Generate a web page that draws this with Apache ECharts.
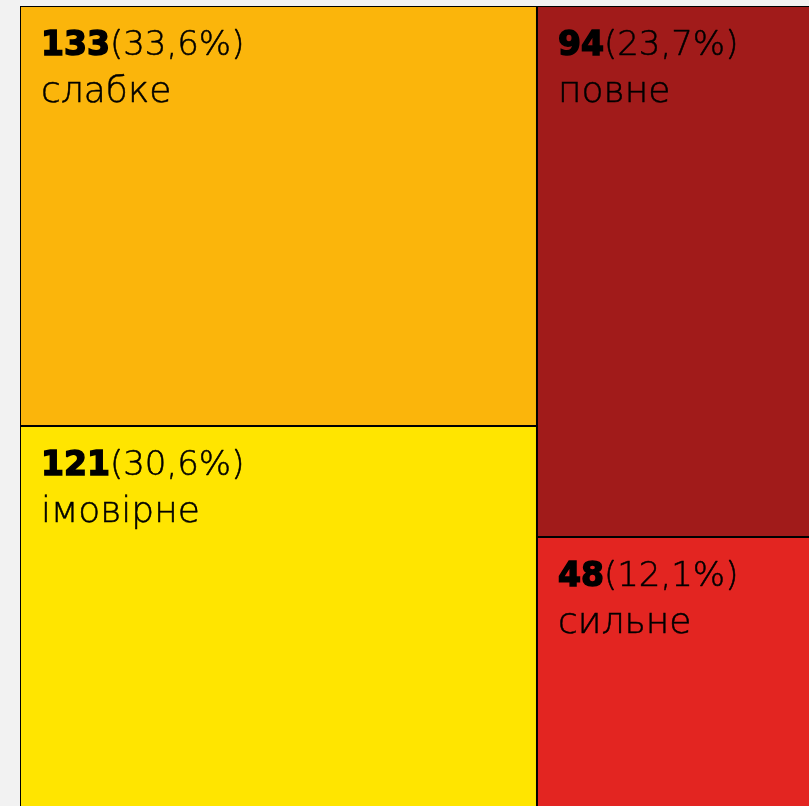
<!DOCTYPE html>
<html>
<head>
<meta charset="utf-8">
<script src="https://cdn.jsdelivr.net/npm/echarts@6/dist/echarts.min.js"></script>
<style>
html,body{margin:0;padding:0;background:#f2f2f2;}
#c{width:809px;height:806px;}
</style>
</head>
<body>
<div id="c"></div>
<script>
// Data
const groups = [
  ['слабке', 'імовірне'],
  ['повне', 'сильне']
];
const categories = ['слабке', 'імовірне', 'повне', 'сильне'];
const values = [133, 121, 94, 48];
const colors = ['#FBB50B', '#FFE500', '#A11B1A', '#E32521'];

const total = values.reduce((a, b) => a + b, 0);
const data = groups.map(g => ({
  name: g.join('/'),
  children: g.map(n => {
    const i = categories.indexOf(n);
    return { name: n, value: values[i], itemStyle: { color: colors[i] } };
  })
}));

const lightFont = '"DejaVu Sans ExtraLight", "DejaVu Sans", sans-serif';
const chart = echarts.init(document.getElementById('c'), null, { renderer: 'canvas' });
chart.setOption({
  animation: false,
  backgroundColor: '#f2f2f2',
  series: [{
    type: 'treemap',
    left: 20,
    top: 6,
    width: 806,
    height: 802,
    roam: false,
    nodeClick: false,
    breadcrumb: { show: false },
    squareRatio: 1,
    levels: [
      { itemStyle: { borderWidth: 0, gapWidth: 0, borderColor: '#000' } },
      { itemStyle: { borderWidth: 0, gapWidth: 0, borderColor: '#000' } },
      { itemStyle: { borderWidth: 1, gapWidth: 0, borderColor: '#000' } }
    ],
    label: {
      show: true,
      position: [15, 11],
      formatter: function (p) {
        const pct = (p.value / total * 100).toFixed(1).replace('.', ',');
        return '{a|' + p.value + '}{b|(' + pct + '%)}\n{c|' + p.name + '}';
      },
      rich: {
        a: { fontFamily: '"DejaVu Sans", sans-serif', fontWeight: 'bold', fontSize: 33, color: '#000', lineHeight: 47, textBorderColor: '#000', textBorderWidth: 1.5 },
        b: { fontFamily: lightFont, fontWeight: 200, fontSize: 34, color: '#000', lineHeight: 47, textBorderColor: '#000', textBorderWidth: 0.5 },
        c: { fontFamily: lightFont, fontWeight: 200, fontSize: 36, color: '#000', lineHeight: 46, textBorderColor: '#000', textBorderWidth: 0.5 }
      }
    },
    upperLabel: { show: false },
    data: data
  }]
});
</script>
</body>
</html>
